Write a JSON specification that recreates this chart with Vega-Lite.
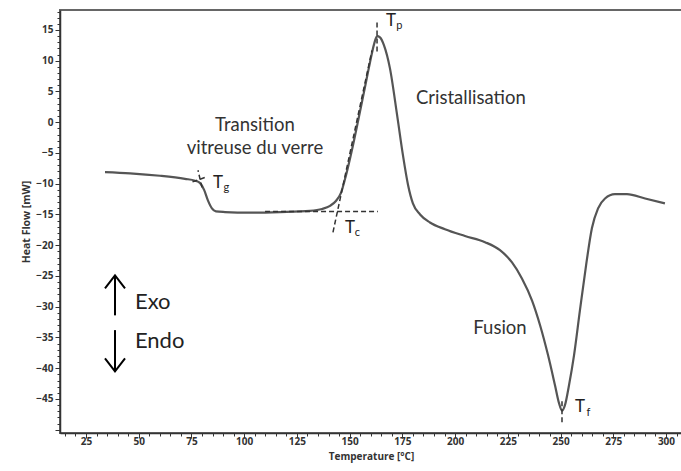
{
  "$schema": "https://vega.github.io/schema/vega-lite/v6.json",
  "width": 622,
  "height": 423,
  "autosize": "none",
  "padding": {"left": 60, "top": 10, "right": 0, "bottom": 38},
  "background": "white",
  "config": {
    "view": {"stroke": "#666", "strokeWidth": 2},
    "font": "Open Sans"
  },
  "datasets": {
    "curve": [
      {"t": 34.0, "hf": -8.1}, {"t": 45.9, "hf": -8.3}, {"t": 60.1, "hf": -8.7}, {"t": 71.9, "hf": -9.2},
      {"t": 76.7, "hf": -9.5}, {"t": 79.1, "hf": -9.9}, {"t": 81.0, "hf": -11.0}, {"t": 82.8, "hf": -12.7},
      {"t": 84.7, "hf": -14.0}, {"t": 86.6, "hf": -14.5}, {"t": 90.9, "hf": -14.6}, {"t": 102.8, "hf": -14.7},
      {"t": 117.0, "hf": -14.6}, {"t": 131.2, "hf": -14.4}, {"t": 136.9, "hf": -14.1}, {"t": 140.7, "hf": -13.6},
      {"t": 143.5, "hf": -12.8}, {"t": 145.9, "hf": -11.5}, {"t": 148.3, "hf": -8.6}, {"t": 151.1, "hf": -4.5},
      {"t": 154.0, "hf": 0.2}, {"t": 156.8, "hf": 4.9}, {"t": 159.7, "hf": 9.8}, {"t": 161.6, "hf": 12.7},
      {"t": 163.0, "hf": 14.0}, {"t": 164.4, "hf": 13.8}, {"t": 166.3, "hf": 12.5}, {"t": 169.1, "hf": 8.8},
      {"t": 172.5, "hf": 1.2}, {"t": 175.3, "hf": -5.4}, {"t": 177.7, "hf": -10.2}, {"t": 180.0, "hf": -13.2},
      {"t": 183.4, "hf": -15.0}, {"t": 188.1, "hf": -16.3}, {"t": 195.2, "hf": -17.4}, {"t": 204.7, "hf": -18.5},
      {"t": 214.2, "hf": -19.5}, {"t": 221.3, "hf": -20.8}, {"t": 227.0, "hf": -22.8}, {"t": 231.7, "hf": -25.4},
      {"t": 236.5, "hf": -29.0}, {"t": 240.3, "hf": -33.0}, {"t": 244.1, "hf": -37.9}, {"t": 247.4, "hf": -42.8},
      {"t": 249.3, "hf": -45.7}, {"t": 250.7, "hf": -46.9}, {"t": 252.1, "hf": -46.0}, {"t": 254.0, "hf": -42.8},
      {"t": 256.4, "hf": -37.9}, {"t": 259.2, "hf": -30.6}, {"t": 262.1, "hf": -23.3}, {"t": 264.9, "hf": -17.2},
      {"t": 267.8, "hf": -14.0}, {"t": 271.1, "hf": -12.4}, {"t": 275.8, "hf": -11.7}, {"t": 281.5, "hf": -11.7},
      {"t": 290.1, "hf": -12.4}, {"t": 299.5, "hf": -13.2}
    ],
    "dashes": [
      {"seg": "tangent", "t": 142.1, "hf": -17.9}, {"seg": "tangent", "t": 160.6, "hf": 11.7},
      {"seg": "base", "t": 109.9, "hf": -14.5}, {"seg": "base", "t": 163.4, "hf": -14.5},
      {"seg": "tg", "t": 78.1, "hf": -7.8}, {"seg": "tg", "t": 80.0, "hf": -10.6},
      {"seg": "tg2", "t": 75.5, "hf": -9.7}, {"seg": "tg2", "t": 82.0, "hf": -8.9},
      {"seg": "tp", "t": 163.0, "hf": 16.5}, {"seg": "tp", "t": 163.0, "hf": 11.5},
      {"seg": "tf", "t": 250.7, "hf": -44.9}, {"seg": "tf", "t": 250.7, "hf": -48.8}
    ],
    "arrows": [
      {"seg": "upshaft", "t": 38.75, "hf": -24.9}, {"seg": "upshaft", "t": 38.75, "hf": -31.4},
      {"seg": "uphead", "t": 34.0, "hf": -27.0}, {"seg": "uphead", "t": 38.75, "hf": -24.9}, {"seg": "uphead", "t": 43.5, "hf": -27.0},
      {"seg": "downshaft", "t": 38.75, "hf": -33.8}, {"seg": "downshaft", "t": 38.75, "hf": -40.5},
      {"seg": "downhead", "t": 34.0, "hf": -38.4}, {"seg": "downhead", "t": 38.75, "hf": -40.5}, {"seg": "downhead", "t": 43.5, "hf": -38.4}
    ],
    "labels": [
      {"text": "Transition", "t": 105.1, "hf": -0.5},
      {"text": "vitreuse du verre", "t": 105.1, "hf": -4.2},
      {"text": "Cristallisation", "t": 207.5, "hf": 3.9},
      {"text": "Fusion", "t": 221.3, "hf": -33.5}
    ],
    "exo": [
      {"text": "Exo", "t": 48.2, "hf": -29.3},
      {"text": "Endo", "t": 48.2, "hf": -35.6}
    ],
    "tletters": [
      {"text": "T", "t": 87.6, "hf": -9.9},
      {"text": "T", "t": 169.6, "hf": 16.4},
      {"text": "T", "t": 150.2, "hf": -17.2},
      {"text": "T", "t": 259.2, "hf": -46.3}
    ],
    "subs": [
      {"text": "g", "t": 91.6, "hf": -10.7},
      {"text": "p", "t": 173.6, "hf": 15.6},
      {"text": "c", "t": 153.7, "hf": -18.0},
      {"text": "f", "t": 263.2, "hf": -47.3}
    ]
  },
  "layer": [
    {
      "data": {"name": "curve"},
      "mark": {"type": "line", "color": "#555", "strokeWidth": 2.2, "interpolate": "monotone"},
      "encoding": {
        "x": {
          "field": "t", "type": "quantitative",
          "scale": {"domain": [12.67, 307.6], "nice": false, "zero": false},
          "axis": {
            "title": "Temperature [°C]",
            "titleFont": "Open Sans", "titleFontSize": 10, "titleFontWeight": "bold", "titleColor": "#333", "titlePadding": 5,
            "tickCount": 200,
            "format": "d",
            "values": [15,20,25,30,35,40,45,50,55,60,65,70,75,80,85,90,95,100,105,110,115,120,125,130,135,140,145,150,155,160,165,170,175,180,185,190,195,200,205,210,215,220,225,230,235,240,245,250,255,260,265,270,275,280,285,290,295,300,305],
            "labelExpr": "datum.value % 25 === 0 ? datum.label : ''",
            "labelOverlap": false,
            "labelFont": "Open Sans", "labelFontSize": 10, "labelFontWeight": "bold", "labelColor": "#333", "labelPadding": -2,
            "tickSize": {"condition": {"test": "datum.value % 25 === 0", "value": 5}, "value": 3},
            "tickColor": "#333", "tickWidth": 1,
            "domainColor": "#333", "domainWidth": 1.5,
            "grid": false
          }
        },
        "y": {
          "field": "hf", "type": "quantitative",
          "scale": {"domain": [-50.53, 18.25], "nice": false, "zero": false},
          "axis": {
            "title": "Heat Flow [mW]",
            "titleFont": "Open Sans", "titleFontSize": 10.5, "titleFontWeight": "bold", "titleColor": "#333", "titlePadding": 4,
            "tickCount": 200,
            "format": "d",
            "values": [-50,-49,-48,-47,-46,-45,-44,-43,-42,-41,-40,-39,-38,-37,-36,-35,-34,-33,-32,-31,-30,-29,-28,-27,-26,-25,-24,-23,-22,-21,-20,-19,-18,-17,-16,-15,-14,-13,-12,-11,-10,-9,-8,-7,-6,-5,-4,-3,-2,-1,0,1,2,3,4,5,6,7,8,9,10,11,12,13,14,15,16,17,18],
            "labelExpr": "datum.value % 5 === 0 && datum.value >= -45 ? datum.label : ''",
            "labelOverlap": false,
            "labelFont": "Open Sans", "labelFontSize": 10, "labelFontWeight": "bold", "labelColor": "#333", "labelPadding": 2,
            "tickSize": {"condition": {"test": "datum.value % 5 === 0", "value": 5}, "value": 3},
            "tickColor": "#333", "tickWidth": 1,
            "domainColor": "#333", "domainWidth": 1.5,
            "grid": false
          }
        }
      }
    },
    {
      "data": {"name": "dashes"},
      "mark": {"type": "line", "color": "#333", "strokeWidth": 1.5, "strokeDash": [5, 3]},
      "encoding": {
        "x": {"field": "t", "type": "quantitative"},
        "y": {"field": "hf", "type": "quantitative"},
        "detail": {"field": "seg"},
        "order": {"field": "hf"}
      }
    },
    {
      "data": {"name": "arrows"},
      "mark": {"type": "line", "color": "#000", "strokeWidth": 2},
      "encoding": {
        "x": {"field": "t", "type": "quantitative"},
        "y": {"field": "hf", "type": "quantitative"},
        "detail": {"field": "seg"},
        "order": {"field": "t"}
      }
    },
    {
      "data": {"name": "labels"},
      "mark": {"type": "text", "font": "Lato", "fontSize": 18.5, "color": "#333", "align": "center", "baseline": "middle"},
      "encoding": {
        "x": {"field": "t", "type": "quantitative"},
        "y": {"field": "hf", "type": "quantitative"},
        "text": {"field": "text"}
      }
    },
    {
      "data": {"name": "exo"},
      "mark": {"type": "text", "font": "Lato", "fontSize": 22, "color": "#222", "align": "left", "baseline": "middle"},
      "encoding": {
        "x": {"field": "t", "type": "quantitative"},
        "y": {"field": "hf", "type": "quantitative"},
        "text": {"field": "text"}
      }
    },
    {
      "data": {"name": "tletters"},
      "mark": {"type": "text", "font": "Lato", "fontSize": 17, "color": "#222", "align": "center", "baseline": "middle"},
      "encoding": {
        "x": {"field": "t", "type": "quantitative"},
        "y": {"field": "hf", "type": "quantitative"},
        "text": {"field": "text"}
      }
    },
    {
      "data": {"name": "subs"},
      "mark": {"type": "text", "font": "Lato", "fontSize": 11, "color": "#222", "align": "center", "baseline": "middle"},
      "encoding": {
        "x": {"field": "t", "type": "quantitative"},
        "y": {"field": "hf", "type": "quantitative"},
        "text": {"field": "text"}
      }
    }
  ]
}
